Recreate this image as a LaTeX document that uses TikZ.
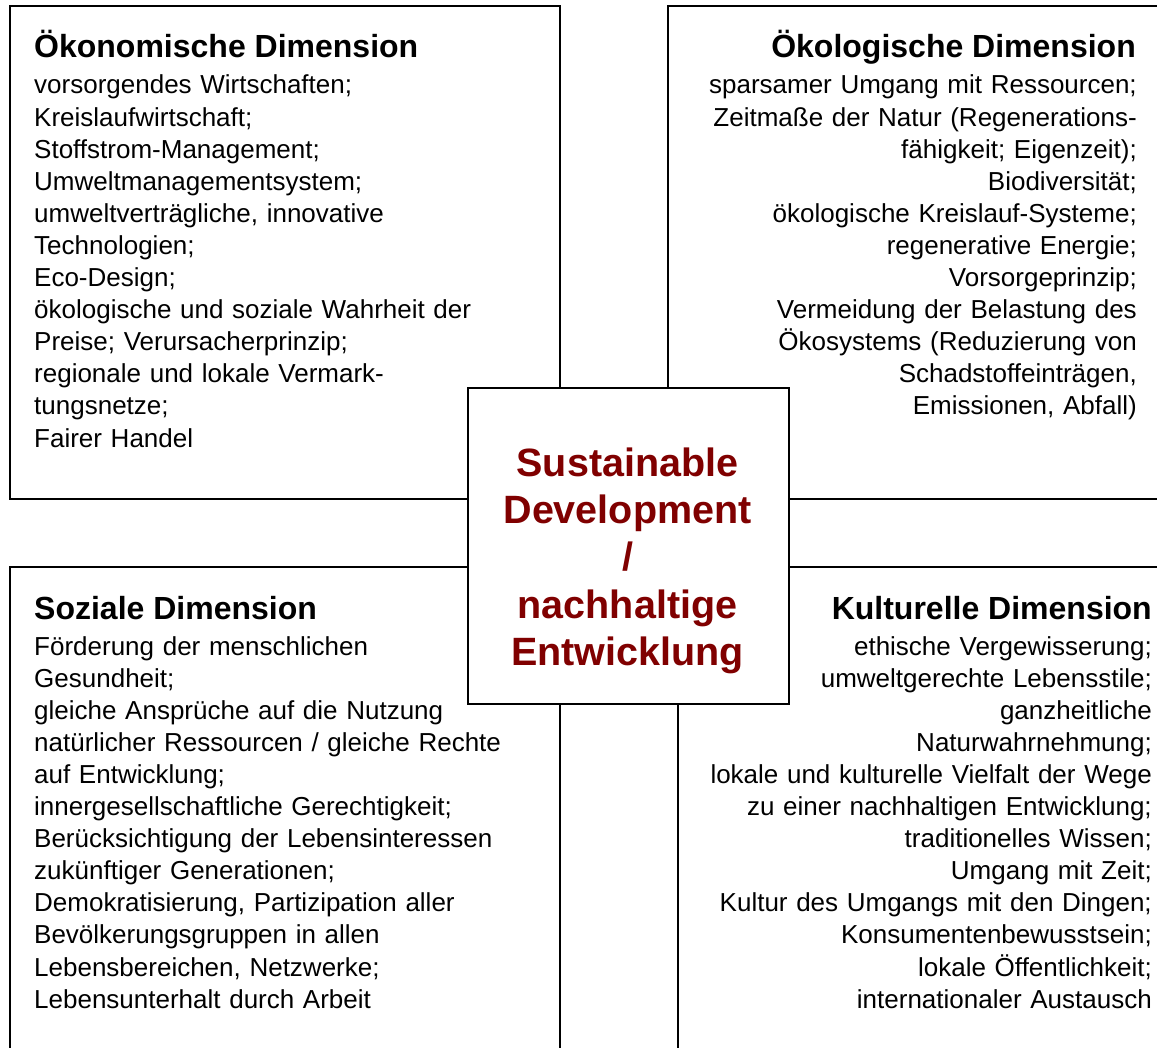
\documentclass[tikz,border=0pt]{standalone}
\usepackage{fontspec}
\setmainfont{Liberation Sans}
\definecolor{dunkelrot}{RGB}{128,0,0}
\begin{document}
\begin{tikzpicture}[x=1pt,y=-1pt,inner sep=0pt]
\tikzstyle{dimbox}=[draw,line width=1.8pt,anchor=north west]
\tikzstyle{titel}=[font=\fontsize{32}{36}\selectfont\bfseries]
\tikzstyle{textl}=[anchor=base west,text width=540pt,align=left,font=\fontsize{26}{32.1}\selectfont]
\tikzstyle{textr}=[anchor=base east,text width=500pt,align=right,font=\fontsize{26}{32.1}\selectfont]
\tikzstyle{kern}=[anchor=base,text width=310pt,align=center,text=dunkelrot,font=\fontsize{39.5}{47.5}\selectfont\bfseries]
\useasboundingbox (0,0) rectangle (1157,1048);
\clip (0,0) rectangle (1157,1048);
\fill[white] (0,0) rectangle (1157,1048);
%% die vier Dimensionen
\node at (9,5) (oekonomBox)[dimbox,minimum width=550pt,minimum height=493pt] {};
\node at (667,5) (oekologBox)[dimbox,minimum width=520pt,minimum height=493pt] {};
\node at (9,566) (sozialBox)[dimbox,minimum width=550pt,minimum height=520pt] {};
\node at (677,566) (kulturBox)[dimbox,minimum width=520pt,minimum height=520pt] {};
\node at (34,58) (oekonomTitel)[titel,anchor=base west] {Ökonomische Dimension};
\node at (34,94) (oekonomText)[textl] {vorsorgendes Wirtschaften;\\
Kreislaufwirtschaft;\\
Stoffstrom-Management;\\
Umweltmanagementsystem;\\
umweltverträgliche, innovative\\
Technologien;\\
Eco-Design;\\
ökologische und soziale Wahrheit der\\
Preise; Verursacherprinzip;\\
regionale und lokale Vermark-\\
tungsnetze;\\
Fairer Handel};
\node at (1136,58) (oekologTitel)[titel,anchor=base east] {Ökologische Dimension};
\node at (1137,94) (oekologText)[textr] {sparsamer Umgang mit Ressourcen;\\
Zeitmaße der Natur (Regenerations-\\
fähigkeit; Eigenzeit);\\
Biodiversität;\\
ökologische Kreislauf-Systeme;\\
regenerative Energie;\\
Vorsorgeprinzip;\\
Vermeidung der Belastung des\\
Ökosystems (Reduzierung von\\
Schadstoffeinträgen,\\
Emissionen, Abfall)};
\node at (34,619) (sozialTitel)[titel,anchor=base west] {Soziale Dimension};
\node at (34,655) (sozialText)[textl] {Förderung der menschlichen\\
Gesundheit;\\
gleiche Ansprüche auf die Nutzung\\
natürlicher Ressourcen / gleiche Rechte\\
auf Entwicklung;\\
innergesellschaftliche Gerechtigkeit;\\
Berücksichtigung der Lebensinteressen\\
zukünftiger Generationen;\\
Demokratisierung, Partizipation aller\\
Bevölkerungsgruppen in allen\\
Lebensbereichen, Netzwerke;\\
Lebensunterhalt durch Arbeit};
\node at (1152,619) (kulturTitel)[titel,anchor=base east] {Kulturelle Dimension};
\node at (1152,655) (kulturText)[textr] {ethische Vergewisserung;\\
umweltgerechte Lebensstile;\\
ganzheitliche\\
Naturwahrnehmung;\\
lokale und kulturelle Vielfalt der Wege\\
zu einer nachhaltigen Entwicklung;\\
traditionelles Wissen;\\
Umgang mit Zeit;\\
Kultur des Umgangs mit den Dingen;\\
Konsumentenbewusstsein;\\
lokale Öffentlichkeit;\\
internationaler Austausch};
%% Mitte
\node at (467,387) (zentrum)[dimbox,fill=white,minimum width=321pt,minimum height=316pt] {};
\node at (627.5,476) (zentrumText)[kern] {Sustainable\\ Development\\ /\\ nachhaltige\\ Entwicklung};
\end{tikzpicture}
\end{document}
